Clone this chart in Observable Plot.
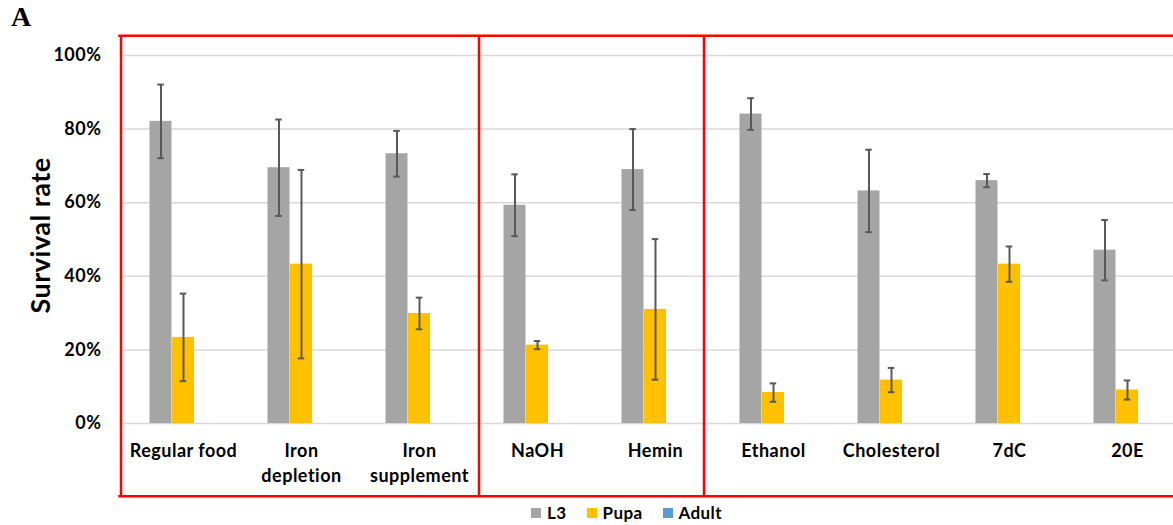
<!DOCTYPE html>
<html>
<head>
<meta charset="utf-8">
<script src="https://cdn.jsdelivr.net/npm/d3@7"></script>
<script src="https://cdn.jsdelivr.net/npm/@observablehq/plot@0.6"></script>
<style>
  html, body { margin: 0; padding: 0; background: #fff; overflow: hidden; }
  #wrap { position: relative; width: 1173px; }
  #panel { position: absolute; left: 11px; top: 1px; font: bold 28px "Liberation Serif", "Times New Roman", serif; color: #000; }
  #legend { display: flex; justify-content: center; padding-left: 80px; height: 25px; align-items: center; }
  #legend .lg-swatches { font: bold 17px Lato, sans-serif; letter-spacing: 0.4px; color: #000; margin: 0; min-height: 0; }
  #legend .lg-swatch { margin-right: 20px; }
  #legend .lg-swatch:last-child { margin-right: 0; }
  #legend .lg-swatch > svg { margin-right: 6px; }
  #chart svg text { letter-spacing: 0.5px; }
</style>
</head>
<body>
<div id="wrap">
  <div id="chart"></div>
  <div id="panel">A</div>
  <div id="legend"></div>
</div>
<script>
// Treatments along the x axis
const categories = ["Regular food", "Iron depletion", "Iron supplement", "NaOH", "Hemin", "Ethanol", "Cholesterol", "7dC", "20E"];
const tickLabels = ["Regular food", "Iron\ndepletion", "Iron\nsupplement", "NaOH", "Hemin", "Ethanol", "Cholesterol", "7dC", "20E"];

// Developmental stages and their colours
const series = ["L3", "Pupa", "Adult"];
const seriesColors = ["#a5a5a5", "#ffc000", "#5b9bd5"];

// Survival rate (mean ± error) per stage
const l3Mean   = [0.821, 0.695, 0.733, 0.593, 0.690, 0.841, 0.632, 0.660, 0.471];
const l3Err    = [0.100, 0.131, 0.062, 0.084, 0.110, 0.043, 0.112, 0.018, 0.082];
const pupaMean = [0.234, 0.433, 0.299, 0.213, 0.310, 0.084, 0.118, 0.433, 0.091];
const pupaErr  = [0.119, 0.256, 0.043, 0.011, 0.191, 0.025, 0.033, 0.048, 0.026];
const adultMean = [0, 0, 0, 0, 0, 0, 0, 0, 0];

const yTicks = [0, 0.2, 0.4, 0.6, 0.8, 1.0];

// Treatment groups outlined in red
const groupStarts = ["Regular food", "NaOH", "Ethanol"];

const means = [l3Mean, pupaMean, adultMean];
const errs = [l3Err, pupaErr, null];
const rows = series.map((s, k) => categories.map((c, i) => ({
  cat: c, series: s,
  value: means[k][i],
  lo: errs[k] ? means[k][i] - errs[k][i] : null,
  hi: errs[k] ? means[k][i] + errs[k][i] : null
})));

// Geometry of one category band: three adjacent bars centred in the band
const BAND = 118.5, BAR = 22.5, CAP = 7;
const lead = (BAND - 3 * BAR) / 2;
const red = "#ff0000";
const boxTop = 1.054, boxBottom = -0.198;

function stageMarks(k) {
  const left = lead + k * BAR;
  const marks = [
    Plot.barY(rows[k], {x: "cat", y: "value", fill: seriesColors[k], insetLeft: left, insetRight: BAND - left - BAR})
  ];
  if (errs[k]) {
    const c = left + BAR / 2;
    const capStyle = {stroke: "#595959", strokeWidth: 2, insetLeft: c - CAP / 2, insetRight: BAND - c - CAP / 2};
    marks.push(
      Plot.ruleX(rows[k], {x: "cat", y1: "lo", y2: "hi", stroke: "#595959", strokeWidth: 2, dx: c - BAND / 2}),
      Plot.tickY(rows[k], {x: "cat", y: "hi", ...capStyle}),
      Plot.tickY(rows[k], {x: "cat", y: "lo", ...capStyle})
    );
  }
  return marks;
}

const chart = Plot.plot({
  width: 1173,
  height: 500,
  marginLeft: 121,
  marginRight: 0,
  marginTop: 55,
  marginBottom: 77,
  style: {fontFamily: "Lato, sans-serif", color: "#000", background: "#fff"},
  x: {domain: categories, range: [121.25, 121.25 + BAND * categories.length], padding: 0},
  y: {domain: [0, 1]},
  marks: [
    Plot.gridY(yTicks, {stroke: "#d9d9d9", strokeOpacity: 1, strokeWidth: 1.5}),
    ...stageMarks(0),
    ...stageMarks(1),
    ...stageMarks(2),
    Plot.axisY({ticks: yTicks, tickFormat: d3.format(".0%"), tickSize: 0, tickPadding: 20, fontSize: 18, fontWeight: "bold", label: null}),
    Plot.axisX({tickSize: 0, tickPadding: 16, tickFormat: (d) => tickLabels[categories.indexOf(d)], fontSize: 18, fontWeight: "bold", lineHeight: 1.38, label: null}),
    Plot.text(["Survival rate"], {frameAnchor: "left", textAnchor: "middle", rotate: -90, dx: -80, dy: -4, fontSize: 27, fontWeight: "bold", fill: "#000"}),
    // red outline around the three treatment groups
    Plot.ruleY([boxTop, boxBottom], {stroke: red, strokeWidth: 2.5, insetLeft: -2.75, insetRight: -30}),
    Plot.ruleX([groupStarts[0]], {y1: boxBottom, y2: boxTop, stroke: red, strokeWidth: 2.5, dx: -62.5}),
    Plot.ruleX([groupStarts[1]], {y1: boxBottom, y2: boxTop, stroke: red, strokeWidth: 2.5, dx: -58.5}),
    Plot.ruleX([groupStarts[2]], {y1: boxBottom, y2: boxTop, stroke: red, strokeWidth: 2.5, dx: -69.5})
  ]
});
document.getElementById("chart").append(chart);

const legend = Plot.legend({
  color: {domain: series, range: seriesColors},
  legend: "swatches",
  swatchSize: 10,
  className: "lg"
});
document.getElementById("legend").append(legend);
</script>
</body>
</html>
